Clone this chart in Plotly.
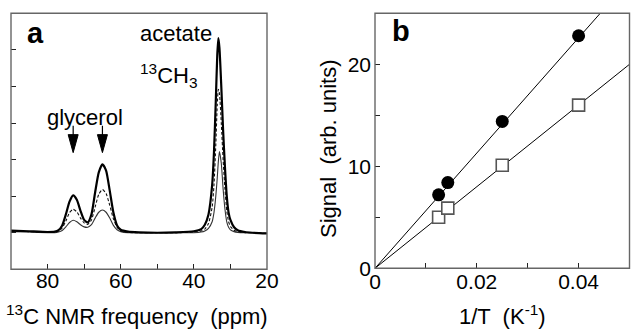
import plotly.graph_objects as go

# ---------------- Panel a: 13C NMR spectra ----------------
ppm = [90, 85, 80, 78, 77, 76, 75, 74, 73, 72, 71, 70, 69, 68, 67, 66, 65, 64, 63, 62, 61, 60,
       58, 55, 50, 45, 40, 38, 37, 36, 35, 34.5, 34, 33.6, 33.3, 33.0, 32.5, 32, 31.5, 31, 30.5,
       30, 29, 28, 26, 24, 20]
spec_thick = [0.06, 0.04, 0.02, 0.03, 0.07, 0.2, 0.5, 0.85, 1.02, 0.9, 0.6, 0.35, 0.28, 0.5, 1.1,
              1.65, 1.87, 1.7, 1.15, 0.55, 0.2, 0.08, 0.03, 0.01, 0.0, 0.01, 0.04, 0.1, 0.22, 0.5,
              1.3, 2.2, 3.6, 4.85, 5.32, 5.05, 4.0, 2.8, 1.8, 1.0, 0.55, 0.35, 0.15, 0.07, 0.02, 0.0, -0.02]
spec_dashed = [0.04, 0.03, 0.01, 0.02, 0.04, 0.13, 0.32, 0.55, 0.64, 0.57, 0.4, 0.27, 0.23, 0.35, 0.7,
               1.05, 1.18, 1.07, 0.75, 0.38, 0.15, 0.05, 0.01, 0.0, 0.0, 0.0, 0.02, 0.05, 0.1, 0.25,
               0.7, 1.3, 2.4, 3.5, 3.92, 3.8, 3.0, 2.0, 1.2, 0.6, 0.3, 0.17, 0.07, 0.03, 0.0, 0.0, -0.02]
spec_thin = [0.03, 0.02, 0.0, 0.0, 0.02, 0.06, 0.16, 0.28, 0.34, 0.3, 0.22, 0.16, 0.15, 0.22, 0.4,
             0.56, 0.62, 0.56, 0.4, 0.2, 0.08, 0.03, 0.0, 0.0, 0.0, 0.0, 0.0, 0.02, 0.05, 0.12,
             0.3, 0.55, 1.0, 1.5, 1.95, 2.22, 1.9, 1.2, 0.65, 0.3, 0.15, 0.08, 0.03, 0.01, 0.0, 0.0, -0.02]
glycerol_ppm = [73, 65]

# ---------------- Panel b: signal vs 1/T ----------------
inv_T = [0.0125, 0.0143, 0.025, 0.040]
signal_circle = [7.2, 8.4, 14.4, 22.8]
signal_square = [5.0, 5.9, 10.1, 16.0]
fit_slopes = [565, 400]          # slopes of the straight lines through the origin
fit_x = [0, 0.05]

# tick values
a_x_major, a_x_minor = [80, 60, 40, 20], [70, 50, 30]
a_y_ticks = [0, 1, 2, 3, 4, 5]
b_x_major, b_x_labels, b_x_minor = [0, 0.02, 0.04], ["0", "0.02", "0.04"], [0.01, 0.03]
b_y_major, b_y_minor = [0, 10, 20], [5, 15]

FONT = "Liberation Sans, Arial, sans-serif"
W, H = 631, 329

fig = go.Figure()

# spectra
fig.add_trace(go.Scatter(x=ppm, y=spec_thin, mode="lines", line=dict(color="#333", width=1.1, shape="spline", smoothing=0.6),
                         xaxis="x", yaxis="y"))
fig.add_trace(go.Scatter(x=ppm, y=spec_dashed, mode="lines", line=dict(color="#111", width=1.1, dash="3px,2px", shape="spline", smoothing=0.6),
                         xaxis="x", yaxis="y"))
fig.add_trace(go.Scatter(x=ppm, y=spec_thick, mode="lines", line=dict(color="black", width=2.2, shape="spline", smoothing=0.6),
                         xaxis="x", yaxis="y"))

# fit lines
for s in fit_slopes:
    fig.add_trace(go.Scatter(x=fit_x, y=[s * v for v in fit_x], mode="lines", line=dict(color="black", width=1),
                             xaxis="x2", yaxis="y2"))
# points
fig.add_trace(go.Scatter(x=inv_T, y=signal_square, mode="markers",
                         marker=dict(symbol="square", size=12, color="white", line=dict(color="#555", width=1.6)),
                         xaxis="x2", yaxis="y2"))
fig.add_trace(go.Scatter(x=inv_T, y=signal_circle, mode="markers",
                         marker=dict(symbol="circle", size=13, color="black", line=dict(width=0)),
                         xaxis="x2", yaxis="y2"))

TICKC = "#222"
axis_common = dict(showline=False, ticks="inside", ticklen=5, tickwidth=1, tickcolor=TICKC,
                   showgrid=False, zeroline=False, automargin=False,
                   tickfont=dict(family=FONT, size=21, color="black"))

def minor(vals):
    return dict(tickvals=vals, ticks="inside", ticklen=5, tickwidth=1, tickcolor=TICKC)

def fy(px):
    return 1 - px / H

a_xdom = [11 / W, 267 / W]
a_ydom = [fy(269.3), fy(13.3)]
b_xdom = [375 / W, 629.5 / W]
b_ydom = [fy(268.3), fy(13.3)]

fig.update_layout(
    width=W, height=H, margin=dict(l=0, r=0, t=0, b=0, pad=0, autoexpand=False),
    paper_bgcolor="white", plot_bgcolor="white", showlegend=False,
    # panel a
    xaxis=dict(domain=a_xdom, range=[90, 20], tickvals=a_x_major, anchor="y", ticklabelstandoff=-3,
               minor=minor(a_x_minor), **axis_common),
    yaxis=dict(domain=a_ydom, range=[-1, 6], tickvals=a_y_ticks, anchor="x", showticklabels=False, **axis_common),
    xaxis3=dict(overlaying="x", side="top", anchor="y", range=[90, 20], tickvals=a_x_major, showticklabels=False,
                minor=minor(a_x_minor), **axis_common),
    yaxis3=dict(overlaying="y", side="right", anchor="x", range=[-1, 6], tickvals=a_y_ticks, showticklabels=False,
                **axis_common),
    # panel b
    xaxis2=dict(domain=b_xdom, range=[0, 0.05], tickvals=b_x_major, ticktext=b_x_labels, anchor="y2",
                ticklabelstandoff=-1, minor=minor(b_x_minor), **axis_common),
    yaxis2=dict(domain=b_ydom, range=[0, 25], tickvals=b_y_major, anchor="x2", ticklabelstandoff=3,
                minor=minor(b_y_minor), **axis_common),
    xaxis4=dict(overlaying="x2", side="top", anchor="y2", range=[0, 0.05], tickvals=b_x_major, showticklabels=False,
                minor=minor(b_x_minor), **axis_common),
    yaxis4=dict(overlaying="y2", side="right", anchor="x2", range=[0, 25], tickvals=b_y_major, showticklabels=False,
                minor=minor(b_y_minor), **axis_common),
)

ann_font = dict(family=FONT, size=22, color="black")
annotations = [
    dict(text="<b>a</b>", x=35.5 / W, y=fy(33), font=dict(family=FONT, size=29, color="black")),
    dict(text="<b>b</b>", x=401 / W, y=fy(31), font=dict(family=FONT, size=29, color="black")),
    dict(text="acetate", x=176 / W, y=fy(34), font=ann_font),
    dict(text="<sup>13</sup>CH<sub>3</sub>", x=168 / W, y=fy(75), font=ann_font),
    dict(text="glycerol", x=85 / W, y=fy(117), font=ann_font),
    dict(text="<sup>13</sup>C NMR frequency  (ppm)", x=137 / W, y=fy(315), font=ann_font),
    dict(text="1/T  (K<sup>-1</sup>)", x=502 / W, y=fy(315), font=ann_font),
    dict(text="Signal  (arb. units)", x=329 / W, y=fy(148), textangle=-90, font=ann_font),
]
for a in annotations:
    a.update(xref="paper", yref="paper", showarrow=False, xanchor="center", yanchor="middle")
fig.update_layout(annotations=annotations)

# frames around both panels
for xr, yr in (("x", "y"), ("x2", "y2")):
    fig.add_shape(type="rect", xref=xr + " domain", yref=yr + " domain", x0=0, x1=1, y0=0, y1=1,
                  line=dict(color="#666", width=1.4), fillcolor="rgba(0,0,0,0)", layer="above")

# glycerol arrows (pixel-sized shapes anchored at the peak positions)
tip_y = 2.19
for xp in glycerol_ppm:
    fig.add_shape(type="path", xref="x", yref="y", xsizemode="pixel", ysizemode="pixel",
                  xanchor=xp, yanchor=tip_y, path="M -5,18 L 5,18 L 0,0 Z",
                  fillcolor="black", line=dict(color="black", width=1))
    fig.add_shape(type="line", xref="x", yref="y", xsizemode="pixel", ysizemode="pixel",
                  xanchor=xp, yanchor=tip_y, x0=0, x1=0, y0=17, y1=27,
                  line=dict(color="black", width=1.2))

fig.write_html("out.html")
